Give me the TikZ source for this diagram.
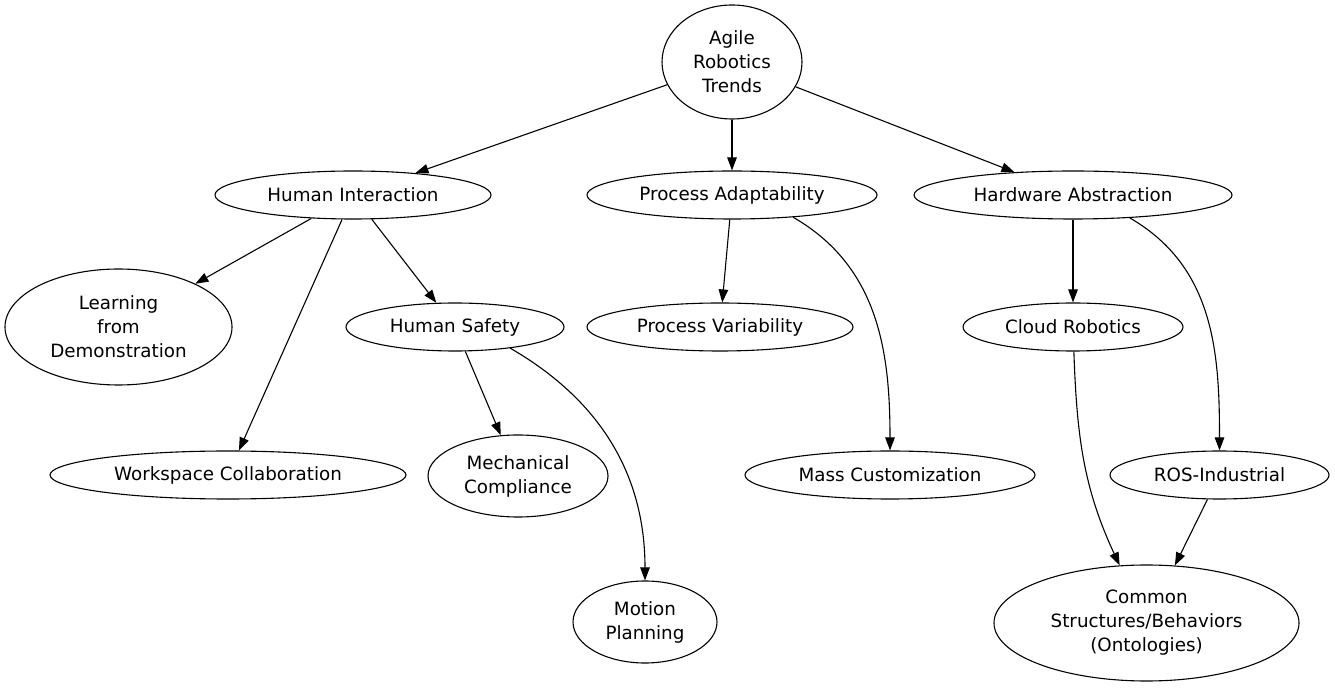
\documentclass[tikz,border=0pt]{standalone}
\usepackage{fontspec}
\setmainfont{DejaVu Sans}
\usetikzlibrary{shapes.geometric,arrows.meta}
\tikzset{
  trend/.style 2 args={ellipse, draw, line width=1.1pt, inner sep=0pt, align=center,
    minimum width=#1, minimum height=#2, font=\fontsize{18.3}{24}\selectfont},
  link/.style={line width=1.1pt, -{Triangle[length=13pt,width=9.5pt]}}
}
\begin{document}
\begin{tikzpicture}[x=1pt,y=1pt]
      \useasboundingbox (0,0) rectangle (1335,688);
      \node[trend={140pt}{114pt}] (agile) at (732,626) {Agile\\Robotics\\Trends};
      \node[trend={276pt}{48pt}] (human) at (353,493) {Human Interaction};
      \node[trend={290pt}{48pt}] (process) at (732,493) {Process Adaptability};
      \node[trend={318pt}{48pt}] (hardware) at (1073,493) {Hardware Abstraction};
      \node[trend={227pt}{116pt}] (learning) at (118.5,361) {Learning\\from\\Demonstration};
      \node[trend={218pt}{48pt}] (safety) at (455,361) {Human Safety};
      \node[trend={266pt}{48pt}] (variability) at (720,361) {Process Variability};
      \node[trend={220pt}{48pt}] (cloud) at (1073,361) {Cloud Robotics};
      \node[trend={356pt}{48pt}] (workspace) at (228,213) {Workspace Collaboration};
      \node[trend={180pt}{82pt}] (compliance) at (518,212) {Mechanical\\Compliance};
      \node[trend={290pt}{48pt}] (mass) at (890,213) {Mass Customization};
      \node[trend={219pt}{48pt}] (ros) at (1219.5,213) {ROS-Industrial};
      \node[trend={144pt}{82pt}] (motion) at (645,66) {Motion\\Planning};
      \node[trend={305pt}{116pt}] (common) at (1146.5,65) {Common\\Structures/Behaviors\\(Ontologies)};
      \draw[link] (agile) -- (human);
      \draw[link] (agile) -- (process);
      \draw[link] (agile) -- (hardware);
      \draw[link] (human) -- (learning);
      \draw[link] (human) -- (workspace);
      \draw[link] (human) -- (safety);
      \draw[link] (process) -- (variability);
      \draw[link] (process.-20) to[out=-30,in=90] (mass);
      \draw[link] (hardware) -- (cloud);
      \draw[link] (hardware.-22) to[out=-30,in=90] (ros);
      \draw[link] (safety) -- (compliance);
      \draw[link] (safety.-21) to[out=-30,in=90] (motion);
      \draw[link] (cloud) to[out=-88,in=115] (common);
      \draw[link] (ros) -- (common);
    \end{tikzpicture}
\end{document}
